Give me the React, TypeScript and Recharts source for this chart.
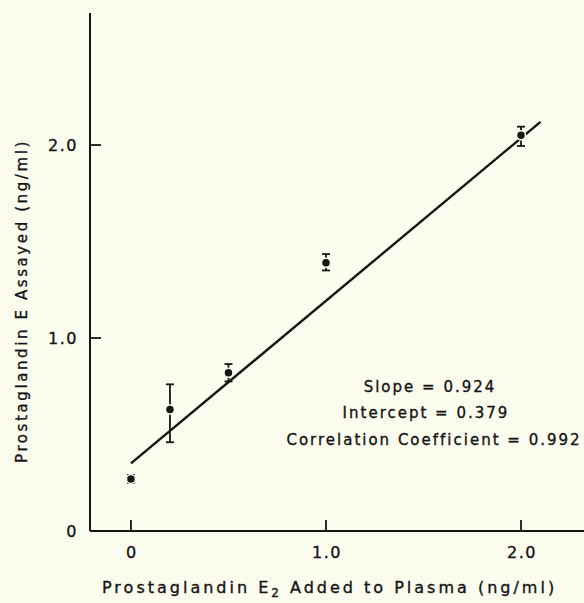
import { ComposedChart, Scatter, Line, XAxis, YAxis, ErrorBar, Customized } from 'recharts';

const doseAdded = [0, 0.2, 0.5, 1.0, 2.0];
const assayed = [0.27, 0.63, 0.82, 1.39, 2.05];
const errLow = [0.02, 0.17, 0.045, 0.04, 0.055];
const errHigh = [0.02, 0.13, 0.045, 0.045, 0.045];

const fitX = [0, 2.1];
const fitY = [0.35, 2.12];

const xTicks = [0, 1, 2];
const xTickLabels = ['0', '1.0', '2.0'];
const yTicks = [0, 1, 2];
const yTickLabels = ['0', '1.0', '2.0'];

const stats = ['Slope = 0.924', 'Intercept = 0.379', 'Correlation Coefficient = 0.992'];

const points = doseAdded.map((x, i) => ({ x, y: assayed[i], err: [errLow[i], errHigh[i]] }));
const fit = fitX.map((x, i) => ({ x, y: fitY[i] }));

const BG = '#fbfbee';
const INK = '#151515';
const FONT = '"DejaVu Sans", sans-serif';

function XTick({ x, y, index }: { x: number; y: number; index: number }) {
  return (
    <g>
      <line x1={x} y1={y} x2={x} y2={y - 11} stroke={INK} strokeWidth={1.8} />
      <text x={x + 1} y={y + 27} textAnchor="middle" fontSize={16} letterSpacing={1.5} fill={INK}
        stroke={INK} strokeWidth={0.35} fontFamily={FONT}>
        {xTickLabels[index]}
      </text>
    </g>
  );
}

function YTick({ x, y, index }: { x: number; y: number; index: number }) {
  return (
    <g>
      {index > 0 && <line x1={x} y1={y} x2={x + 11} y2={y} stroke={INK} strokeWidth={1.8} />}
      <text x={x - 12} y={y + 6} textAnchor="end" fontSize={16} letterSpacing={1.5} fill={INK}
        stroke={INK} strokeWidth={0.35} fontFamily={FONT}>
        {yTickLabels[index]}
      </text>
    </g>
  );
}

function Dot({ cx, cy }: { cx?: number; cy?: number }) {
  return <circle cx={cx} cy={cy} r={4.5} fill={INK} stroke={BG} strokeWidth={1.5} />;
}

function Texts() {
  return (
    <g fontFamily={FONT} fill={INK} stroke={INK} strokeWidth={0.35}>
      <text x={430} y={392} textAnchor="middle" fontSize={15} letterSpacing={2}>{stats[0]}</text>
      <text x={426} y={418} textAnchor="middle" fontSize={15} letterSpacing={2}>{stats[1]}</text>
      <text x={434} y={445} textAnchor="middle" fontSize={15} letterSpacing={2}>{stats[2]}</text>
      <text x={102} y={593} fontSize={16} letterSpacing={3}>
        Prostaglandin E<tspan fontSize={12} dy={4}>2</tspan><tspan dy={-4}> Added to Plasma (ng/ml)</tspan>
      </text>
      <text transform="translate(27,463) rotate(-90)" fontSize={15} letterSpacing={2.6}>
        Prostaglandin E Assayed  (ng/ml)
      </text>
    </g>
  );
}

export default function App() {
  return (
    <div style={{ position: 'absolute', left: 0, top: 0, width: 584, height: 603, background: BG }}>
      <ComposedChart width={584} height={603} margin={{ top: 13, right: 0, bottom: 0, left: 0 }}>
        <XAxis
          type="number" dataKey="x" domain={[-0.21, 2.323]} ticks={xTicks} height={72}
          tickSize={0} tickMargin={0} tickLine={false}
          axisLine={{ stroke: INK, strokeWidth: 2 }} tick={XTick as any} allowDataOverflow
        />
        <YAxis
          type="number" dataKey="y" domain={[0, 2.684]} ticks={yTicks} width={90}
          tickSize={0} tickMargin={0} tickLine={false}
          axisLine={{ stroke: INK, strokeWidth: 2 }} tick={YTick as any} allowDataOverflow
        />
        <Line data={fit} dataKey="y" type="linear" stroke={INK} strokeWidth={2.4} dot={false} isAnimationActive={false} />
        <Scatter data={points} dataKey="y" shape={Dot as any} isAnimationActive={false}>
          <ErrorBar dataKey="err" direction="y" width={4} strokeWidth={1.8} stroke={INK} isAnimationActive={false} />
        </Scatter>
        <Customized component={Texts} />
      </ComposedChart>
    </div>
  );
}
